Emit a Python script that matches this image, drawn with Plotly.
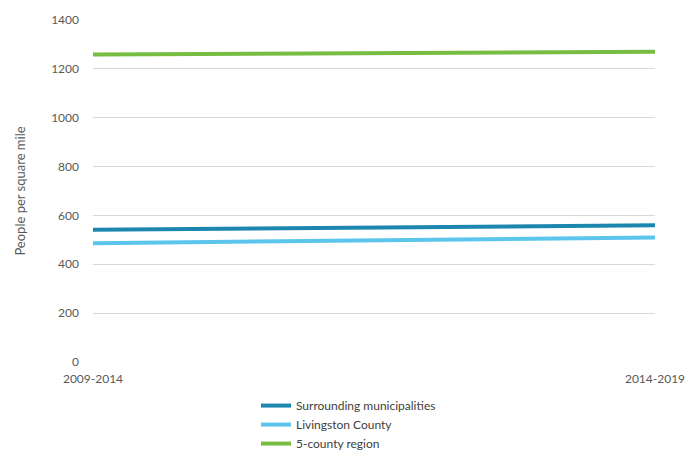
import plotly.graph_objects as go

categories = ["2009-2014", "2014-2019"]
surrounding = [541, 560]
livingston = [486, 510]
region5 = [1259, 1270]
series_names = ["Surrounding municipalities", "Livingston County", "5-county region"]
colors = ["#1B87AE", "#5BC5EC", "#77BD42"]

fig = go.Figure()
for name, vals, col in zip(series_names, [surrounding, livingston, region5], colors):
    fig.add_trace(go.Scatter(x=categories, y=vals, mode="lines", name=name,
                             line=dict(color=col, width=4)))

font_fam = "Lato, 'Open Sans', sans-serif"
fig.update_layout(
    width=700, height=473,
    margin=dict(l=93, r=45, t=18, b=111),
    paper_bgcolor="white", plot_bgcolor="white",
    font=dict(family=font_fam, size=12, color="#595959"),
    showlegend=True,
    legend=dict(orientation="v", x=0.29, y=-0.085, xanchor="left", yanchor="top",
                font=dict(size=12, color="#404040"), tracegroupgap=0,
                itemwidth=30, traceorder="normal"),
    xaxis=dict(range=[0, 1], showgrid=False, showline=False, ticks="",
               ticklabelstandoff=8,
               tickfont=dict(size=12, color="#595959"), tickangle=0),
    yaxis=dict(range=[0, 1400], dtick=200, showgrid=True, gridcolor="#D9D9D9",
               gridwidth=1, zeroline=False, showline=False, ticks="",
               ticklabelstandoff=13,
               tickfont=dict(size=12, color="#595959"),
               title=dict(text="People per square mile", standoff=22,
                          font=dict(size=13, color="#595959"))),
)
fig.write_html("out.html")
